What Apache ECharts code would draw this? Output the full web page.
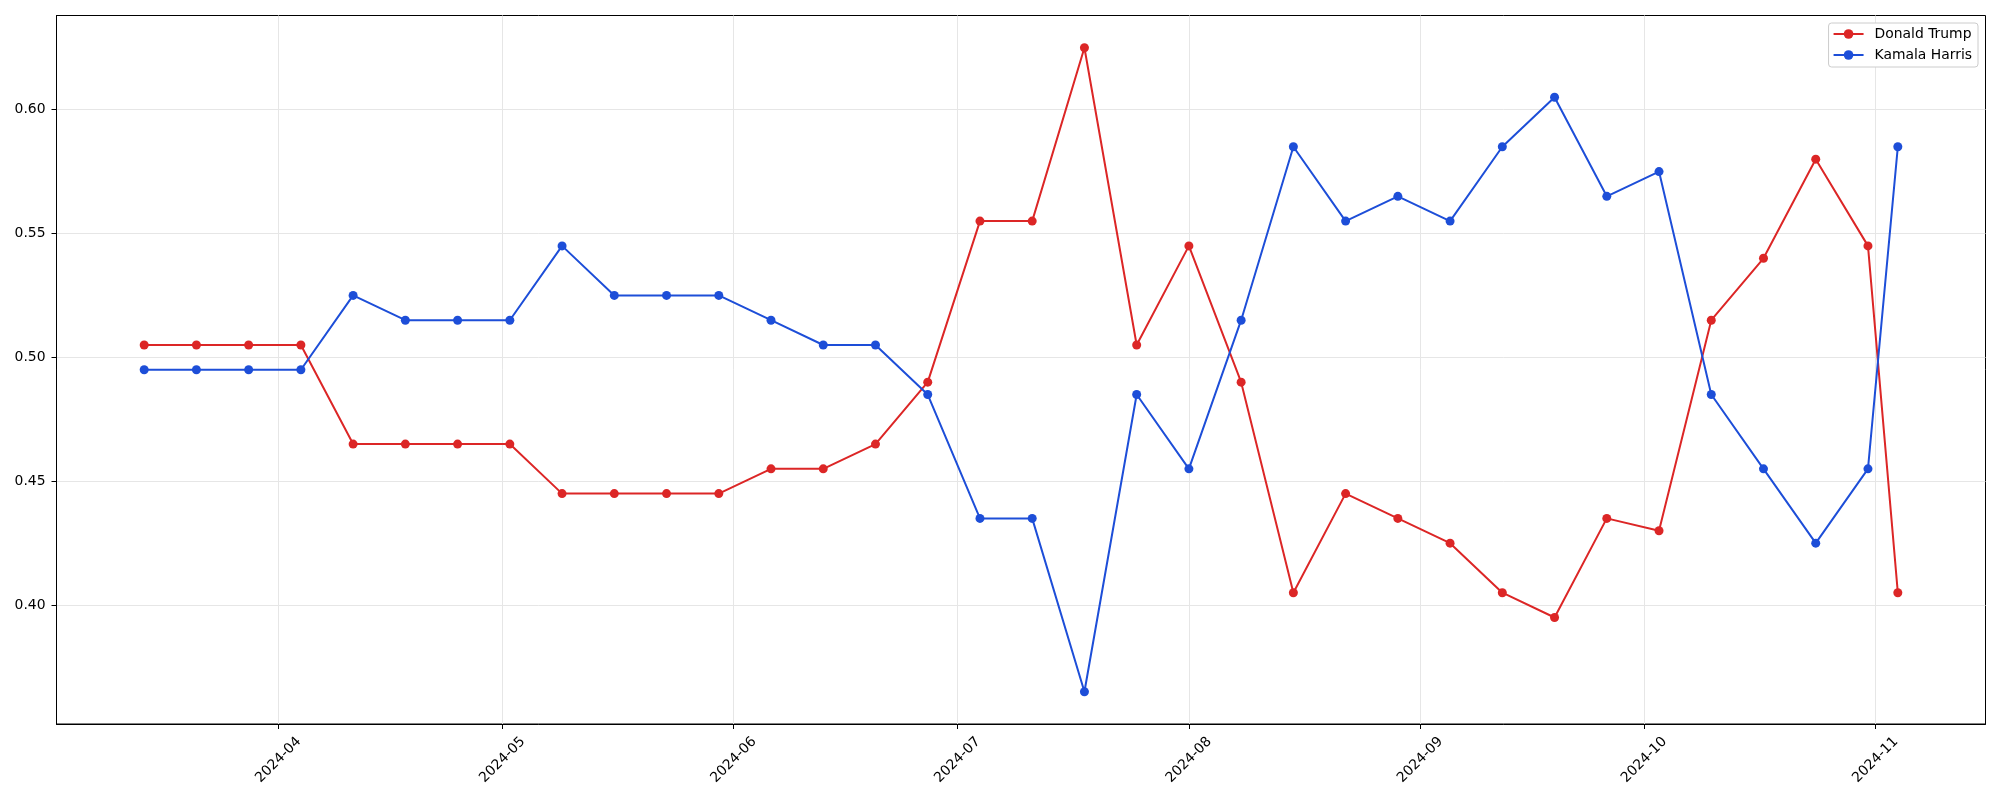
<!DOCTYPE html>
<html>
<head>
<meta charset="utf-8">
<script src="https://cdn.jsdelivr.net/npm/echarts@6/dist/echarts.min.js"></script>
<style>
html,body{margin:0;padding:0;background:#fff;}
#chart{width:2000px;height:800px;}
</style>
</head>
<body>
<div id="chart"></div>
<script>
const dates = ['2024-03-14','2024-03-21','2024-03-28','2024-04-04','2024-04-11','2024-04-18','2024-04-25',
  '2024-05-02','2024-05-09','2024-05-16','2024-05-23','2024-05-30','2024-06-06','2024-06-13','2024-06-20',
  '2024-06-27','2024-07-04','2024-07-11','2024-07-18','2024-07-25','2024-08-01','2024-08-08','2024-08-15',
  '2024-08-22','2024-08-29','2024-09-05','2024-09-12','2024-09-19','2024-09-26','2024-10-03','2024-10-10',
  '2024-10-17','2024-10-24','2024-10-31','2024-11-04'];
const trump = [0.505,0.505,0.505,0.505,0.465,0.465,0.465,0.465,0.445,0.445,0.445,0.445,0.455,0.455,0.465,
  0.49,0.555,0.555,0.625,0.505,0.545,0.49,0.405,0.445,0.435,0.425,0.405,0.395,0.435,0.43,0.515,0.54,0.58,0.545,0.405];
const harris = [0.495,0.495,0.495,0.495,0.525,0.515,0.515,0.515,0.545,0.525,0.525,0.525,0.515,0.505,0.505,
  0.485,0.435,0.435,0.365,0.485,0.455,0.515,0.585,0.555,0.565,0.555,0.585,0.605,0.565,0.575,0.485,0.455,0.425,0.455,0.585];
const monthTicks = ['2024-04-01','2024-05-01','2024-06-01','2024-07-01','2024-08-01','2024-09-01','2024-10-01','2024-11-01'];
const yTicks = [0.40,0.45,0.50,0.55,0.60];
const seriesNames = ['Donald Trump','Kamala Harris'];
const seriesColors = ['#dc2626','#1d4ed8'];

function ts(s){const p=s.split('-').map(Number);return Date.UTC(p[0],p[1]-1,p[2]);}
const xs = dates.map(ts);
const xMinD = Math.min(...xs), xMaxD = Math.max(...xs), xPad = (xMaxD-xMinD)*0.05;
const allY = trump.concat(harris);
const yMinD = Math.min(...allY), yMaxD = Math.max(...allY), yPad = (yMaxD-yMinD)*0.05;

const font = 'DejaVu Sans';
const chart = echarts.init(document.getElementById('chart'), null, {renderer:'canvas'});
chart.setOption({
  animation: false,
  backgroundColor: '#ffffff',
  grid: {left:56.5, top:15.5, right:14.5, bottom:76, show:true, borderColor:'#000', borderWidth:1, backgroundColor:'transparent'},
  legend: {
    orient:'vertical', right:22, top:23,
    backgroundColor:'#ffffff', borderColor:'#cccccc', borderWidth:1, borderRadius:3,
    padding:[4,6,5,4], itemWidth:30, itemHeight:12, itemGap:7,
    textStyle:{fontFamily:font, fontSize:13.9, color:'#000', padding:[0,0,0,6]},
    data: seriesNames
  },
  xAxis: {
    type:'value', min:xMinD-xPad, max:xMaxD+xPad, scale:true,
    axisLine:{show:true, onZero:false, lineStyle:{color:'#000', width:1}},
    axisTick:{show:true, length:5, lineStyle:{color:'#000', width:1}, customValues: monthTicks.map(ts)},
    axisLabel:{customValues: monthTicks.map(ts), rotate:45, align:'center', verticalAlign:'middle', margin:36,
      fontFamily:font, fontSize:13.9, color:'#000',
      formatter: v => { const d=new Date(v); return d.getUTCFullYear()+'-'+String(d.getUTCMonth()+1).padStart(2,'0'); }},
    splitLine:{show:true, lineStyle:{color:'#e6e6e6', width:1}}
  },
  yAxis: {
    type:'value', min:yMinD-yPad, max:yMaxD+yPad, scale:true,
    axisLine:{show:true, onZero:false, lineStyle:{color:'#000', width:1}},
    axisTick:{show:true, length:5, lineStyle:{color:'#000', width:1}, customValues: yTicks},
    axisLabel:{customValues: yTicks, margin:11, fontFamily:font, fontSize:13.9, color:'#000', formatter: v => v.toFixed(2)},
    splitLine:{show:true, lineStyle:{color:'#e6e6e6', width:1}}
  },
  series: [trump, harris].map((vals,i)=>({
    name: seriesNames[i], type:'line', data: vals.map((v,j)=>[xs[j], v]),
    symbol:'circle', symbolSize:9, showSymbol:true,
    lineStyle:{color:seriesColors[i], width:2},
    itemStyle:{color:seriesColors[i], borderWidth:0},
    emphasis:{disabled:true}
  }))
});
</script>
</body>
</html>
